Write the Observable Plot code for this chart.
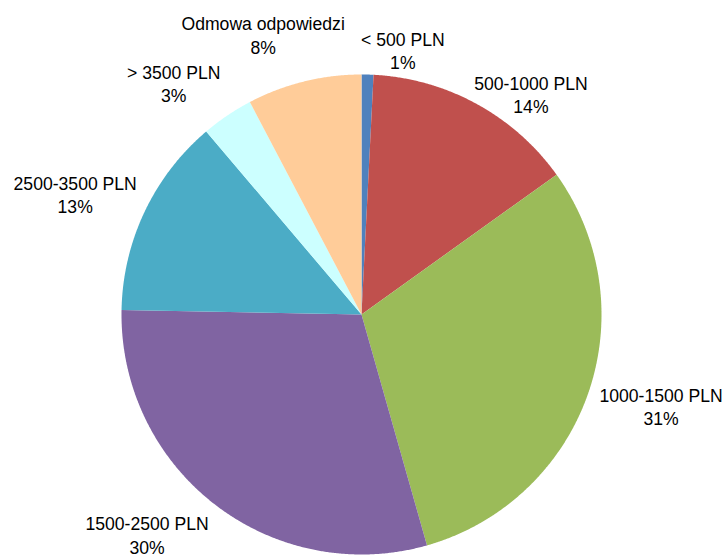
<!DOCTYPE html>
<html><head><meta charset="utf-8">
<script src="https://cdn.jsdelivr.net/npm/d3@7"></script>
<script src="https://cdn.jsdelivr.net/npm/@observablehq/plot@0.6"></script>
<style>body{margin:0;background:#fff}</style>
</head><body><div id="chart"></div>
<script>
const categories = ["< 500 PLN","500-1000 PLN","1000-1500 PLN","1500-2500 PLN","2500-3500 PLN","> 3500 PLN","Odmowa odpowiedzi"];
const shares = [0.8, 14.3, 30.5, 29.7, 13.5, 3.5, 7.7];
const percentLabels = ["1%","14%","31%","30%","13%","3%","8%"];
const colors = ["#4F81BD","#C0504D","#9BBB59","#8064A2","#4BACC6","#CCFFFF","#FFCC99"];

// layout tuning: pixel nudges of the data labels (Excel-style label placement)
const labelNudge = {
  "< 500 PLN": [35, 11],
  "500-1000 PLN": [-8, 24],
  "1000-1500 PLN": [0, -15],
  "1500-2500 PLN": [1, -3],
  "2500-3500 PLN": [3, 11],
  "> 3500 PLN": [0, 1],
  "Odmowa odpowiedzi": [-38, -12]
};

const FONT = "'Liberation Sans', Arial, sans-serif";
const FS = 17.6, LH = 1.33;
const radiusPx = 240; // pixels per data unit (pie radius)

const rows = categories.map((c, i) => ({category: c, share: shares[i], pct: percentLabels[i]}));
const arcs = d3.pie().sort(null).value(d => d.share)(rows);

// slice outlines in unit-circle coordinates (angle clockwise from 12 o'clock)
const outline = [];
for (const a of arcs) {
  outline.push({category: a.data.category, x: 0, y: 0});
  const n = Math.max(2, Math.ceil((a.endAngle - a.startAngle) / 0.005));
  for (let k = 0; k <= n; k++) {
    const t = a.startAngle + (a.endAngle - a.startAngle) * k / n;
    outline.push({category: a.data.category, x: Math.sin(t), y: Math.cos(t)});
  }
}

const ctx = document.createElement("canvas").getContext("2d");
ctx.font = `${FS}px ${FONT}`;
const R = 1.05;
const labels = arcs.map(a => {
  const m = (a.startAngle + a.endAngle) / 2;
  const s = Math.sin(m), c = Math.cos(m);
  const lines = [a.data.category, a.data.pct];
  const w = Math.max(...lines.map(l => ctx.measureText(l).width));
  const h = lines.length * FS * LH;
  const hx = s > 0.3 ? 1 : s < -0.3 ? -1 : 0;
  const vy = c > 0.3 ? 1 : c < -0.3 ? -1 : 0;
  const [nx, ny] = labelNudge[a.data.category] || [0, 0];
  return {
    text: lines.join("\n"),
    x: R * s + (hx * w / 2 + nx) / radiusPx,
    y: R * c + (vy * h / 2 - ny) / radiusPx
  };
});

const chart = Plot.plot({
  width: 723, height: 556,
  marginLeft: 121, marginRight: 122, marginTop: 74, marginBottom: 2,
  x: {domain: [-1, 1], axis: null},
  y: {domain: [-1, 1], axis: null},
  color: {domain: categories, range: colors},
  style: {fontFamily: FONT, fontSize: FS + "px", background: "#fff", overflow: "visible"},
  marks: [
    Plot.line(outline, {x: "x", y: "y", z: "category", fill: "category", stroke: null, curve: "linear-closed"}),
    Plot.text(labels, {x: "x", y: "y", text: "text", textAnchor: "middle", lineAnchor: "middle", fontSize: FS, lineHeight: LH, fill: "#000"})
  ]
});
document.getElementById("chart").append(chart);
</script>
</body></html>
